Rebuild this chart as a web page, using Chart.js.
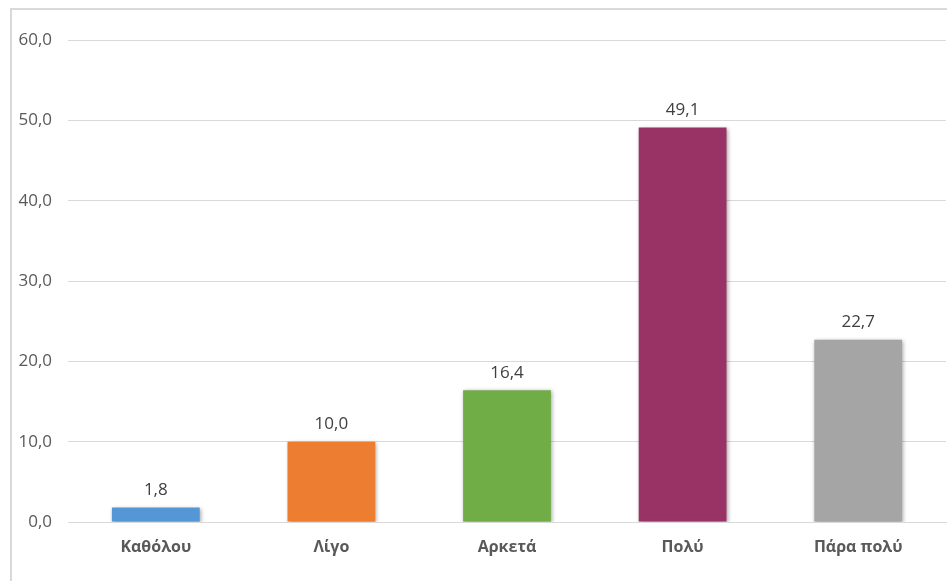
<!DOCTYPE html>
<html>
<head>
<meta charset="utf-8">
<script src="https://cdn.jsdelivr.net/npm/chart.js@4/dist/chart.umd.min.js"></script>
<style>
html,body{margin:0;padding:0;background:#fff;}
#wrap{position:relative;width:947px;height:581px;}
canvas{display:block;}
</style>
</head>
<body>
<div id="wrap"><canvas id="c" width="947" height="581"></canvas></div>
<script>
const categories = ["Καθόλου", "Λίγο", "Αρκετά", "Πολύ", "Πάρα πολύ"];
const values = [1.8, 10.0, 16.4, 49.1, 22.7];
const barColors = ["#5596D6", "#ED7D31", "#70AD47", "#993366", "#A5A5A5"];
const yTicks = [0, 10, 20, 30, 40, 50, 60];

const fmt = v => v.toFixed(1).replace('.', ',');
const FONT = "'Open Sans', 'Noto Sans', sans-serif";

const frame = {
  id: 'frame',
  beforeDraw(chart) {
    const ctx = chart.ctx;
    ctx.save();
    ctx.fillStyle = '#fff';
    ctx.fillRect(0, 0, chart.width, chart.height);
    ctx.strokeStyle = '#D9D9D9';
    ctx.lineWidth = 2;
    ctx.beginPath();
    ctx.moveTo(11, chart.height);
    ctx.lineTo(11, 9);
    ctx.lineTo(chart.width, 9);
    ctx.stroke();
    ctx.restore();
  }
};

const shadow = {
  id: 'shadow',
  beforeDatasetsDraw(chart) {
    const ctx = chart.ctx;
    ctx.save();
    ctx.shadowColor = 'rgba(0,0,0,0.35)';
    ctx.shadowBlur = 4;
    ctx.shadowOffsetX = 1;
    ctx.shadowOffsetY = 1;
  },
  afterDatasetsDraw(chart) {
    chart.ctx.restore();
  }
};

const labels = {
  id: 'labels',
  afterDatasetsDraw(chart) {
    const ctx = chart.ctx;
    const meta = chart.getDatasetMeta(0);
    ctx.save();
    ctx.font = "17px " + FONT;
    ctx.fillStyle = '#404040';
    ctx.textAlign = 'center';
    ctx.textBaseline = 'bottom';
    meta.data.forEach((bar, i) => {
      ctx.fillText(fmt(values[i]), bar.x, bar.y - 9);
    });
    ctx.restore();
  }
};

new Chart(document.getElementById('c'), {
  type: 'bar',
  data: {
    labels: categories,
    datasets: [{
      data: values,
      backgroundColor: barColors,
      borderWidth: 0,
      categoryPercentage: 1.0,
      barPercentage: 0.5
    }]
  },
  options: {
    responsive: false,
    animation: false,
    devicePixelRatio: 1,
    layout: { padding: { left: 10, top: 40, right: 1, bottom: 0 } },
    plugins: { legend: { display: false }, tooltip: { enabled: false } },
    scales: {
      y: {
        min: 0, max: 60,
        afterBuildTicks(scale) { scale.ticks = yTicks.map(v => ({ value: v })); },
        afterFit(scale) { scale.width = 58; },
        grid: { color: '#D9D9D9', drawTicks: false },
        border: { display: false },
        ticks: {
          padding: 16,
          color: '#595959',
          font: { family: FONT, size: 17 },
          callback: v => fmt(v)
        }
      },
      x: {
        afterFit(scale) { scale.height = 59; },
        grid: { display: false, drawTicks: false },
        border: { color: '#D9D9D9', width: 1 },
        ticks: {
          padding: 16,
          color: '#595959',
          font: { family: FONT, size: 16, weight: 'bold' }
        }
      }
    }
  },
  plugins: [frame, shadow, labels]
});
</script>
</body>
</html>
